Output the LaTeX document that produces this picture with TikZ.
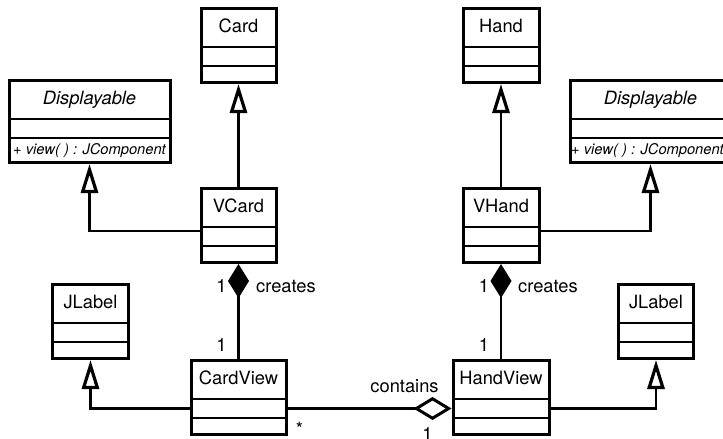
\documentclass[tikz,border=0pt]{standalone}
\usepackage{fontspec}
\setmainfont{TeX Gyre Heros}
\usetikzlibrary{arrows.meta}

\begin{document}
\begin{tikzpicture}[
		x=1pt, y=-1pt,
		cls/.style={draw, line width=3pt, minimum width=#1, minimum height=74pt, inner sep=0pt,
			path picture={
				\draw[line width=1.1pt] ([yshift=-38.5pt]path picture bounding box.north west) -- ([yshift=-38.5pt]path picture bounding box.north east);
				\draw[line width=1.1pt] ([yshift=-57.5pt]path picture bounding box.north west) -- ([yshift=-57.5pt]path picture bounding box.north east);
			}},
		ttl/.style={font=\fontsize{18.3pt}{22pt}\selectfont#1, text height=13pt, text depth=0pt, inner sep=0pt},
		ttl/.default={},
		mth/.style={font=\fontsize{14.7pt}{17pt}\selectfont\itshape, text height=10.5pt, text depth=0pt, inner sep=0pt},
		inherit/.style={line width=2.8pt, -{Triangle[open, length=29pt, width=17pt, line width=3.2pt]}},
		compose/.style={line width=2.8pt, {Diamond[length=34pt, width=21pt]}-},
		aggr/.style={line width=2.8pt, {Diamond[open, length=38pt, width=23pt, line width=3pt]}-}
		]
		\useasboundingbox (0,0) rectangle (723,439);
		\clip (0,0) rectangle (723,439);
		
		% Card side
		\node[cls=75pt] (card) at (238.5,45.5) {};
		\node[ttl] (card-t) at ([yshift=-19pt]card.north) {Card};
		\node[cls=75pt] (vcard) at (238.5,225.5) {};
		\node[ttl] (vcard-t) at ([yshift=-19pt]vcard.north) {VCard};
		\node[cls=161pt, minimum height=82pt] (displ) at (89.5,121.5) {};
		\node[ttl=\itshape] (displ-t) at ([yshift=-19pt]displ.north) {Displayable};
		\node[mth] (displ-m) at ([yshift=-70.5pt]displ.north) {+ view( ) : JComponent};
		\node[cls=76pt] (jlabl) at (90.5,321.5) {};
		\node[ttl] (jlabl-t) at ([yshift=-19pt]jlabl.north) {JLabel};
		\node[cls=95pt] (cardview) at (238.5,397.5) {};
		\node[ttl] (cardview-t) at ([yshift=-19pt]cardview.north) {CardView};
		
		% Hand side
		\node[cls=76pt] (hand) at (501,45.5) {};
		\node[ttl] (hand-t) at ([yshift=-19pt]hand.north) {Hand};
		\node[cls=76pt] (vhand) at (501,225.5) {};
		\node[ttl] (vhand-t) at ([yshift=-19pt]vhand.north) {VHand};
		\node[cls=161pt, minimum height=82pt] (dispr) at (650.5,121.5) {};
		\node[ttl=\itshape] (dispr-t) at ([yshift=-19pt]dispr.north) {Displayable};
		\node[mth] (dispr-m) at ([xshift=-3pt, yshift=-70.5pt]dispr.north) {+ view( ) : JComponent};
		\node[cls=75pt] (jlabr) at (656,321.5) {};
		\node[ttl] (jlabr-t) at ([yshift=-19pt]jlabr.north) {JLabel};
		\node[cls=96pt] (handview) at (501,397.5) {};
		\node[ttl] (handview-t) at ([yshift=-19pt]handview.north) {HandView};
		
		% generalizations
		\draw[inherit] (vcard.north) -- (card.south);
		\draw[inherit] ([yshift=-5.5pt]vcard.west) -| (displ.south);
		\draw[inherit] ([yshift=-11pt]cardview.west) -| (jlabl.south);
		\draw[inherit] (vhand.north) -- (hand.south);
		\draw[inherit] ([yshift=-5.5pt]vhand.east) -| (dispr.south);
		\draw[inherit] ([yshift=-11pt]handview.east) -| (jlabr.south);
		
		% compositions and aggregation
		\draw[compose] (vcard.south) -- (cardview.north);
		\draw[compose] (vhand.south) -- (handview.north);
		\draw[aggr] ([yshift=-11pt]handview.west) -- ([yshift=-11pt]cardview.east);
		
		% multiplicities and role names
		\node[ttl] (cr1-m) at ([xshift=-17pt, yshift=-21.5pt]vcard.south) {1};
		\node[ttl, anchor=west] (cr1-l) at ([xshift=17.5pt, yshift=-21.5pt]vcard.south) {creates};
		\node[ttl] (cr1-n) at ([xshift=-17pt, yshift=14.5pt]cardview.north) {1};
		\node[ttl] (cr2-m) at ([xshift=-17pt, yshift=-21.5pt]vhand.south) {1};
		\node[ttl, anchor=west] (cr2-l) at ([xshift=17pt, yshift=-21.5pt]vhand.south) {creates};
		\node[ttl] (cr2-n) at ([xshift=-17pt, yshift=14.5pt]handview.north) {1};
		\node[ttl] (ct-l) at ([xshift=-47pt, yshift=11.3pt]handview.west) {contains};
		\node[ttl] (ct-m) at ([xshift=-24pt, yshift=-36pt]handview.west) {1};
		\node[ttl] (ct-n) at ([xshift=12pt, yshift=-31.7pt]cardview.east) {*};
		
	\end{tikzpicture}
\end{document}
